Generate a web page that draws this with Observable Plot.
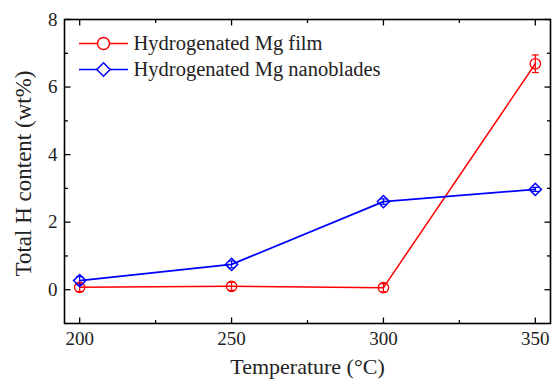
<!DOCTYPE html>
<html><head><meta charset="utf-8">
<script src="https://cdn.jsdelivr.net/npm/d3@7"></script>
<script src="https://cdn.jsdelivr.net/npm/@observablehq/plot@0.6"></script>
<style>body{margin:0;background:#fff}</style>
</head><body><div id="chart"></div>
<script>
const temperatures = [200, 250, 300, 350];
const filmValues = [0.07, 0.10, 0.06, 6.69];
const filmErrors = [0.12, 0.12, 0.12, 0.26];
const bladeValues = [0.27, 0.75, 2.61, 2.97];
const bladeErrors = [0.12, 0.10, 0.08, 0.06];
const seriesNames = ["Hydrogenated Mg film", "Hydrogenated Mg nanoblades"];
const xMajorTicks = [200, 250, 300, 350];
const xMinorTicks = [225, 275, 325];
const yMajorTicks = [0, 2, 4, 6, 8];
const yMinorTicks = [1, 3, 5, 7];
const xLabel = "Temperature (°C)";
const yLabel = "Total H content (wt%)";

const RED = "#ff0000", BLUE = "#0000ff", INK = "#222";
const filmRows = temperatures.map((t, i) => ({t, v: filmValues[i], e: filmErrors[i]}));
const bladeRows = temperatures.map((t, i) => ({t, v: bladeValues[i], e: bladeErrors[i]}));

const rad = s => Math.sqrt(s / Math.PI);
const hline = {draw(c, s) { const r = rad(s); c.moveTo(-r, 0); c.lineTo(r, 0); }};
const tickUp = {draw(c, s) { const r = rad(s); c.moveTo(0, 0); c.lineTo(0, -r); }};
const tickDown = {draw(c, s) { const r = rad(s); c.moveTo(0, 0); c.lineTo(0, r); }};
const tickRight = {draw(c, s) { const r = rad(s); c.moveTo(0, 0); c.lineTo(r, 0); }};
const tickLeft = {draw(c, s) { const r = rad(s); c.moveTo(0, 0); c.lineTo(-r, 0); }};

function ticksOn(values, channel, frameAnchor, symbol, len) {
  return Plot.dot(values, {[channel]: d => d, frameAnchor, symbol, r: len, stroke: "black", fill: "none", strokeWidth: 1.3});
}
function errorBars(rows, color) {
  return [
    Plot.ruleX(rows, {x: "t", y1: d => d.v - d.e, y2: d => d.v + d.e, stroke: color, strokeWidth: 1.2}),
    Plot.dot(rows, {x: "t", y: d => d.v + d.e, symbol: hline, r: 3.5, stroke: color, fill: "none", strokeWidth: 1.2}),
    Plot.dot(rows, {x: "t", y: d => d.v - d.e, symbol: hline, r: 3.5, stroke: color, fill: "none", strokeWidth: 1.2})
  ];
}
function legendRow(i, color, symbol, dy) {
  return [
    Plot.dot([0], {frameAnchor: "top-left", dx: 39, dy, symbol: hline, r: 24.5, stroke: color, fill: "none", strokeWidth: 1.5}),
    Plot.dot([0], {frameAnchor: "top-left", dx: 39, dy, symbol, r: 6, stroke: color, fill: "white", strokeWidth: 1.5}),
    Plot.text([seriesNames[i]], {frameAnchor: "top-left", dx: 69, dy, text: d => d, textAnchor: "start", lineAnchor: "middle", fontSize: 20.5, fill: INK})
  ];
}

const chart = Plot.plot({
  width: 553, height: 379,
  marginLeft: 64, marginRight: 3, marginTop: 19, marginBottom: 56,
  style: {fontFamily: "'Liberation Serif', 'DejaVu Serif', serif", fontSize: "19px", background: "white"},
  x: {domain: [195, 355], axis: null},
  y: {domain: [-1, 8], axis: null},
  marks: [
    Plot.frame({stroke: "black", strokeWidth: 1.6}),
    ticksOn(xMajorTicks, "x", "bottom", tickUp, 6),
    ticksOn(xMinorTicks, "x", "bottom", tickUp, 3.5),
    ticksOn(xMajorTicks, "x", "top", tickDown, 6),
    ticksOn(xMinorTicks, "x", "top", tickDown, 3.5),
    ticksOn(yMajorTicks, "y", "left", tickRight, 6),
    ticksOn(yMinorTicks, "y", "left", tickRight, 3.5),
    ticksOn(yMajorTicks, "y", "right", tickLeft, 6),
    ticksOn(yMinorTicks, "y", "right", tickLeft, 3.5),
    Plot.axisX({ticks: xMajorTicks, tickSize: 0, tickPadding: 8, label: null, fontSize: 19, fill: INK}),
    Plot.axisY({ticks: yMajorTicks, tickSize: 0, tickPadding: 7, label: null, fontSize: 19, fill: INK}),
    Plot.text([xLabel], {frameAnchor: "bottom", dy: 43, text: d => d, textAnchor: "middle", lineAnchor: "middle", fontSize: 22, fill: INK}),
    Plot.text([yLabel], {frameAnchor: "left", dx: -41, dy: 2, rotate: -90, text: d => d, textAnchor: "middle", lineAnchor: "middle", fontSize: 23, fill: INK}),
    Plot.line(filmRows, {x: "t", y: "v", stroke: RED, strokeWidth: 1.5}),
    Plot.line(bladeRows, {x: "t", y: "v", stroke: BLUE, strokeWidth: 1.8}),
    ...errorBars(filmRows, RED),
    ...errorBars(bladeRows, BLUE),
    Plot.dot(filmRows, {x: "t", y: "v", symbol: "circle", r: 5.2, stroke: RED, fill: "none", strokeWidth: 1.3}),
    Plot.dot(bladeRows, {x: "t", y: "v", symbol: "diamond2", r: 5.5, stroke: BLUE, fill: "none", strokeWidth: 1.5}),
    ...legendRow(0, RED, "circle", 24),
    ...legendRow(1, BLUE, "diamond2", 50)
  ]
});
document.getElementById("chart").append(chart);
</script>
</body></html>
